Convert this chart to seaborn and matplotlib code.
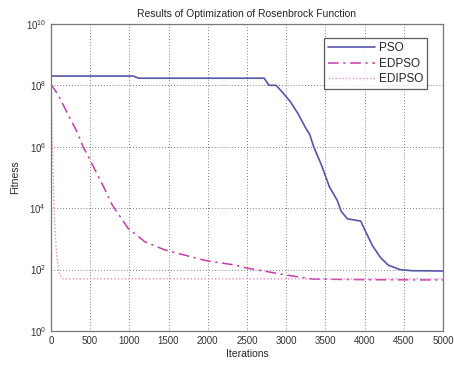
import matplotlib
matplotlib.use("Agg")
import matplotlib.pyplot as plt
import seaborn as sns
import pandas as pd
import numpy as np
from matplotlib.ticker import FixedLocator, NullLocator, FuncFormatter

# Data
pso_iter = [0, 1050, 1120, 2720, 2780, 2870, 2950, 3050, 3150, 3250, 3300, 3350, 3450,
            3550, 3650, 3700, 3780, 3950, 4000, 4100, 4200, 4300, 4450, 4600, 5000]
pso_fit = [2e8, 2e8, 1.7e8, 1.7e8, 1.0e8, 1.0e8, 6e7, 3e7, 1.2e7, 4e6, 2.5e6, 1e6, 2.5e5,
           5e4, 1.8e4, 8e3, 4.5e3, 3.8e3, 2e3, 6e2, 2.5e2, 1.4e2, 1.0e2, 92, 90]

edpso_iter = [0, 90, 340, 410, 500, 690, 780, 985, 1200, 1450, 1960, 2350, 2500, 3010, 3340, 4000, 5000]
edpso_fit = [1.1e8, 5e7, 2.8e6, 1e6, 3.7e5, 4e4, 1.3e4, 2.2e3, 800, 440, 200, 140, 112, 66, 49, 47, 46]

edipso_iter = [0, 20, 40, 60, 80, 110, 150, 5000]
edipso_fit = [1e8, 1e6, 1e4, 1e3, 200, 70, 50, 50]

df = pd.concat([
    pd.DataFrame({"Iterations": pso_iter, "Fitness": pso_fit, "Method": "PSO"}),
    pd.DataFrame({"Iterations": edpso_iter, "Fitness": edpso_fit, "Method": "EDPSO"}),
    pd.DataFrame({"Iterations": edipso_iter, "Fitness": edipso_fit, "Method": "EDIPSO"}),
])

sns.set_style("white")
plt.rcParams['font.family'] = ['Liberation Sans', 'DejaVu Sans']
plt.rcParams['mathtext.fontset'] = 'custom'
plt.rcParams['mathtext.rm'] = 'Liberation Sans'

fig = plt.figure(figsize=(4.54, 3.67), dpi=100)
ax = fig.add_axes([0.112, 0.098, 0.864, 0.837])

palette = {"PSO": "#5656a8", "EDPSO": "#c83ca8", "EDIPSO": "#e890c8"}
styles = {"PSO": "-", "EDPSO": (0, (7, 3, 1.5, 3)), "EDIPSO": (0, (1, 1.5))}
widths = {"PSO": 1.2, "EDPSO": 1.1, "EDIPSO": 1.0}
for m in ["PSO", "EDPSO", "EDIPSO"]:
    sub = df[df["Method"] == m]
    sns.lineplot(data=sub, x="Iterations", y="Fitness", ax=ax, color=palette[m],
                 linestyle=styles[m], linewidth=widths[m], label=m, estimator=None, sort=False)

ax.set_yscale("log")
ax.set_xlim(0, 5000)
ax.set_ylim(1, 1e10)
ax.set_xticks(np.arange(0, 5001, 500))
ax.yaxis.set_major_locator(FixedLocator([1, 1e2, 1e4, 1e6, 1e8, 1e10]))
ax.yaxis.set_minor_locator(NullLocator())
ax.yaxis.set_major_formatter(FuncFormatter(lambda v, p: r"$10^{%d}$" % round(np.log10(v))))
ax.grid(True, color="#555555", linestyle=(0, (1, 2.5)), linewidth=0.6)
ax.tick_params(direction="in", length=3, labelsize=7, colors="#333333", width=0.6)
for s in ax.spines.values():
    s.set_color("#777777")
    s.set_linewidth(0.9)

ax.set_xlabel("Iterations", fontsize=7.5, labelpad=2)
ax.set_ylabel("Fitness", fontsize=7.5, labelpad=4)
ax.set_title("Results of Optimization of Rosenbrock Function", fontsize=7.5, pad=5)

leg = ax.legend(loc="upper right", bbox_to_anchor=(0.959, 0.954), fontsize=8.5,
                frameon=True, fancybox=False, handlelength=4.0, borderpad=0.35,
                labelspacing=0.3, handletextpad=0.3, borderaxespad=0.0)
leg.get_frame().set_edgecolor("#333333")
leg.get_frame().set_linewidth(0.9)

fig.savefig("out.png", dpi=100)
